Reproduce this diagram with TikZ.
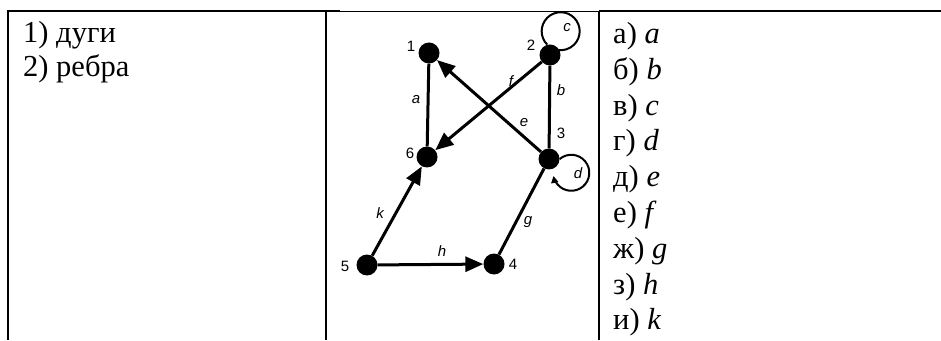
\documentclass[tikz,border=0pt]{standalone}
\usepackage{fontspec}
\setmainfont{Liberation Serif}
\newfontfamily\graphfont{Liberation Sans}
\usetikzlibrary{arrows.meta}

\begin{document}
\begin{tikzpicture}[x=1pt, y=1pt,
    vertex/.style={circle, fill=black, minimum size=21pt, inner sep=0pt},
    graphline/.style={line width=3pt},
    dirarc/.style={graphline, -{Triangle[length=18pt, width=15pt]}},
    loopline/.style={line width=2pt},
    vlabel/.style={font=\graphfont\fontsize{15}{15}\selectfont, inner sep=0pt},
    elabel/.style={font=\graphfont\itshape\fontsize{15}{15}\selectfont, inner sep=0pt},
    cell/.style={anchor=base west, inner sep=0pt, font=\fontsize{30.5}{36}\selectfont}]
    \useasboundingbox (0,0) rectangle (941,340);

    % Table borders
    \draw[line width=1.6pt] (8,0) -- (8,329) -- (340,329);
    \draw[line width=0.8pt] (340,329) -- (599,329);
    \draw[line width=1.6pt] (599,329) -- (941,329);
    \draw[line width=1.6pt] (326,0) -- (326,329);
    \draw[line width=1.6pt] (599,0) -- (599,329);

    % Left column
    \node[cell] (type1) at (23,297) {1) дуги};
    \node[cell] (type2) at (23,263) {2) ребра};

    % Right column
    \foreach \ru/\la [count=\i from 0] in {а/a, б/b, в/c, г/d, д/e, е/f, ж/g, з/h, и/k}
        \node[cell] (opt\la) at (613, 296.5-35.8*\i) {\ru) \textit{\la}};

    % Graph vertices
    \node[vertex] (n1) at (429,287) {};
    \node[vertex] (n2) at (550,285) {};
    \node[vertex] (n3) at (549,181) {};
    \node[vertex] (n6) at (427,183) {};
    \node[vertex] (n5) at (367,75) {};
    \node[vertex] (n4) at (494,76) {};

    % Vertex numbers
    \node[vlabel] (num1) at (411,294) {1};
    \node[vlabel] (num2) at (531,295) {2};
    \node[vlabel] (num3) at (561,207) {3};
    \node[vlabel] (num6) at (410,187) {6};
    \node[vlabel] (num5) at (345,74) {5};
    \node[vlabel] (num4) at (513,76) {4};

    % Edges
    \draw[graphline] (n1) -- (n6);
    \draw[graphline] (n2) -- (n3);
    \draw[graphline] (n3) -- (n4);
    \draw[dirarc] (n3) -- (n1);
    \draw[dirarc] (n2) -- (n6);
    \draw[dirarc] (n5) -- (n4);
    \draw[dirarc] (n5) -- (n6);

    % Loops
    \draw[loopline] (n2.105) arc[start angle=225, end angle=-100, radius=19pt];
    \draw[loopline, -{Triangle[length=7pt, width=7pt]}] (n3.east) arc[start angle=130, end angle=-170, radius=18pt];

    % Edge names
    \node[elabel] (la) at (416,240) {a};
    \node[elabel] (lb) at (561,250) {b};
    \node[elabel] (lc) at (567,312) {c};
    \node[elabel] (ld) at (578,167) {d};
    \node[elabel] (le) at (524,217) {e};
    \node[elabel] (lf) at (511,259) {f};
    \node[elabel] (lg) at (528,118) {g};
    \node[elabel] (lh) at (442,89) {h};
    \node[elabel] (lk) at (380,127) {k};
\end{tikzpicture}
\end{document}
